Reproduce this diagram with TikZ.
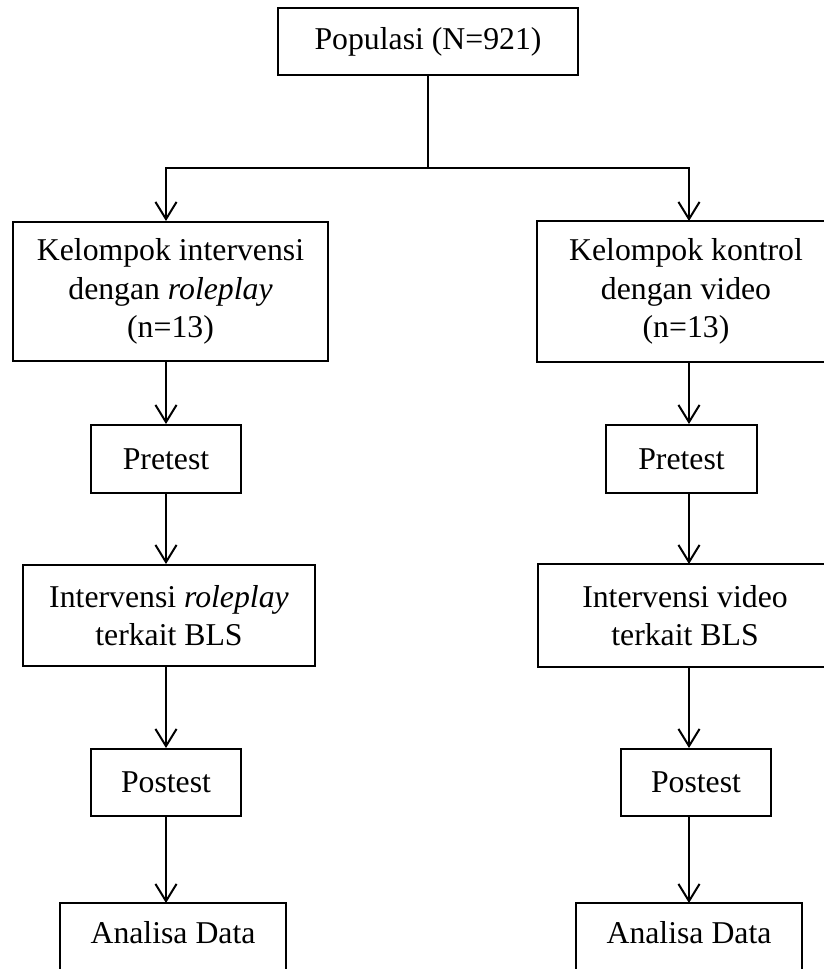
\documentclass[tikz,border=0pt]{standalone}
\usepackage{fontspec}
\setmainfont{Liberation Serif}
\usetikzlibrary{arrows.meta}
\newlength{\pxu}
\setlength{\pxu}{0.378pt}

\begin{document}
\begin{tikzpicture}[x=1\pxu,y=-1\pxu,>={Straight Barb[length=6.5pt,width=8pt]},
  box/.style={draw,line width=2\pxu,inner sep=0pt,align=center,
    font=\fontsize{12pt}{14.5pt}\selectfont},
  openbox/.style={box,draw=none},
  arr/.style={->,line width=2\pxu}]

% page frame
\useasboundingbox (0,0) rectangle (824,969);
\clip (0,0) rectangle (824,969);

% column axes
\coordinate (colL) at (166,0);
\coordinate (colR) at (689,0);

% top box
\node[box,minimum width=300\pxu,minimum height=67\pxu] (pop) at (428,41.5)
  {Populasi (N=921)};

% groups
\node[box,minimum width=315\pxu,minimum height=139\pxu] (grpL) at (170.5,291.5)
  {Kelompok intervensi\\dengan \textit{roleplay}\\(n=13)};
\node[openbox,minimum width=296\pxu,minimum height=139\pxu] (grpR) at (686,291.5)
  {Kelompok kontrol\\dengan video\\(n=13)};
\draw[line width=2\pxu] ([xshift=40\pxu]grpR.north east) -- (grpR.north west)
  -- (grpR.south west) -- ([xshift=40\pxu]grpR.south east);

% pretest
\node[box,minimum width=150\pxu,minimum height=68\pxu] (preL) at (166,459) {Pretest};
\node[box,minimum width=151\pxu,minimum height=68\pxu] (preR) at (681.5,459) {Pretest};

% intervention
\node[box,minimum width=292\pxu,minimum height=101\pxu] (intL) at (169,615.5)
  {Intervensi \textit{roleplay}\\terkait BLS};
\node[openbox,minimum width=292\pxu,minimum height=101\pxu] (intR) at (685,615.5)
  {Intervensi video\\terkait BLS};
\draw[line width=2\pxu] ([xshift=40\pxu]intR.north east) -- (intR.north west)
  -- (intR.south west) -- ([xshift=40\pxu]intR.south east);

% postest
\node[box,minimum width=150\pxu,minimum height=67\pxu] (postL) at (166,782.5) {Postest};
\node[box,minimum width=150\pxu,minimum height=67\pxu] (postR) at (696,782.5) {Postest};

% analysis, running off the page
\node[openbox,minimum width=224\pxu,anchor=north,inner ysep=6.5pt,
  text height=8.5pt,text depth=30pt] (anaL) at (173,903) {Analisa Data};
\node[openbox,minimum width=224\pxu,anchor=north,inner ysep=6.5pt,
  text height=8.5pt,text depth=30pt] (anaR) at (689,903) {Analisa Data};
\draw[line width=2\pxu] (anaL.south west) -- (anaL.north west)
  -- (anaL.north east) -- (anaL.south east);
\draw[line width=2\pxu] (anaR.south west) -- (anaR.north west)
  -- (anaR.north east) -- (anaR.south east);

% split below the population
\coordinate (split) at (428,168);
\draw[line width=2\pxu] (pop.south) -- (split);
\draw[arr] (split) -| (colL |- grpL.north);
\draw[arr] (split) -| (colR |- grpR.north);

% columns
\draw[arr] (colL |- grpL.south) -- (colL |- preL.north);
\draw[arr] (colL |- preL.south) -- (colL |- intL.north);
\draw[arr] (colL |- intL.south) -- (colL |- postL.north);
\draw[arr] (colL |- postL.south) -- (colL |- anaL.north);

\draw[arr] (colR |- grpR.south) -- (colR |- preR.north);
\draw[arr] (colR |- preR.south) -- (colR |- intR.north);
\draw[arr] (colR |- intR.south) -- (colR |- postR.north);
\draw[arr] (colR |- postR.south) -- (colR |- anaR.north);

\end{tikzpicture}
\end{document}
